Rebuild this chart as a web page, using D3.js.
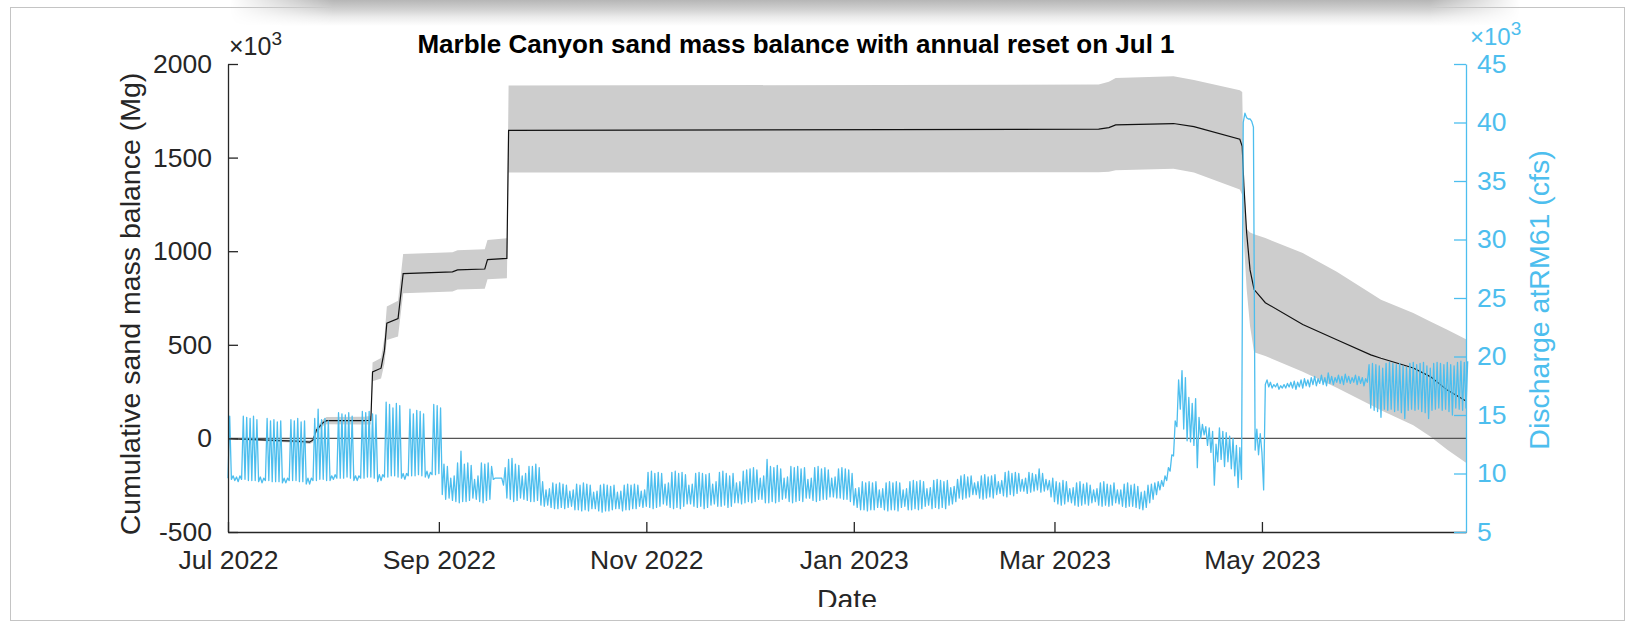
<!DOCTYPE html>
<html>
<head>
<meta charset="utf-8">
<script src="https://cdn.jsdelivr.net/npm/d3@7"></script>
<style>
  body { margin: 0; background: #fff; }
  svg { display: block; }
</style>
</head>
<body>
<script>
// sand mass balance, 10^3 Mg, at days counted from 1 Jul 2022
var massDay  = [0, 5, 10, 15, 20, 24, 25, 26, 28, 29, 40, 42, 42.5, 45, 46, 46.7, 50, 51.5, 66, 67.5, 75.5, 76.3, 82, 82.5,
                256, 259, 261, 278, 284, 297.5, 298.2, 298.7, 299.5, 300.5, 301.7, 305, 316, 326, 336, 339, 348.5, 353.5, 358.5, 364];
var massMean = [0, -5, -8, -12, -15, -20, -8, 45, 85, 95, 95, 97, 355, 375, 470, 615, 640, 880, 890, 900, 905, 955, 962, 1645,
                1652, 1660, 1675, 1682, 1665, 1598, 1560, 1350, 1100, 900, 795, 725, 608, 527, 446, 428, 376, 330, 258, 200];
var massLow  = [-2, -9, -14, -19, -23, -30, -20, 30, 68, 76, 74, 74, 305, 320, 400, 525, 545, 775, 785, 795, 800, 850, 855, 1420,
                1422, 1425, 1432, 1440, 1420, 1330, 1300, 1050, 800, 600, 460, 440, 356, 270, 178, 150, 70, 10, -60, -130];
var massHigh = [2, -1, -2, -5, -7, -10, 4, 60, 102, 114, 116, 120, 405, 430, 540, 705, 735, 985, 995, 1005, 1010, 1060, 1069, 1885,
                1890, 1905, 1925, 1935, 1915, 1860, 1850, 1360, 1120, 1100, 1090, 1070, 990, 890, 775, 740, 670, 625, 580, 530];

// discharge at RM61, 10^3 cfs: one reading at 00:00 and one at 12:00 of each day
var flowNight = [
  9.6,9.5,9.4,9.3,9.5,9.5,9.4,9.4,9.4,9.3,9.2,9.4,9.4,9.3,9.3,9.3,9.2,9.2,9.4,9.4,9.4,9.3,9.3,9.1,9.1,9.4,9.4,9.5,9.5,9.4,9.4,
  9.5,9.6,9.6,9.6,9.7,9.6,9.4,9.4,9.6,9.6,9.7,9.7,9.6,9.3,9.4,9.7,9.7,9.8,9.8,9.7,9.6,9.5,9.8,9.8,9.8,9.9,9.8,9.7,9.6,9.9,9.9,
  10.0,8.2,7.8,7.9,7.7,7.6,7.5,7.6,7.6,7.7,7.9,7.8,7.6,7.5,7.7,7.8,9.5,9.6,9.6,9.0,7.9,7.8,7.6,7.7,7.9,7.8,7.7,7.6,7.6,7.7,
  7.3,7.2,7.3,7.1,7.0,7.0,7.1,7.0,7.1,7.2,6.9,6.9,6.8,6.9,6.8,7.0,7.0,6.8,6.7,6.8,6.8,6.9,7.0,7.0,6.8,6.9,6.9,7.0,7.0,7.2,7.1,
  7.2,7.1,7.0,7.1,7.2,7.4,7.3,7.1,7.0,7.1,7.0,7.2,7.4,7.4,7.2,7.1,7.2,7.0,7.1,7.3,7.4,7.2,7.2,7.3,7.1,7.2,7.5,7.5,7.4,7.5,
  7.6,7.5,7.6,7.8,7.8,7.5,7.5,7.6,7.5,7.6,7.8,7.9,7.6,7.5,7.6,7.7,7.6,7.9,7.9,7.7,7.6,7.7,7.8,7.8,8.0,8.0,7.9,7.9,7.8,7.8,7.6,
  7.3,7.1,6.9,6.9,6.8,6.9,6.9,7.1,7.1,6.9,6.8,6.9,6.9,6.8,7.1,7.2,6.9,6.9,7.0,6.9,7.0,7.2,7.3,7.0,7.1,7.0,7.1,7.0,7.3,7.4,7.6,
  7.9,7.8,7.9,8.0,8.2,8.2,7.9,7.8,7.9,8.0,7.9,8.2,8.3,8.1,8.0,8.2,8.1,8.3,8.5,8.5,8.3,8.4,8.5,8.6,8.4,8.5,8.6,8.0,
  7.6,7.4,7.3,7.4,7.6,7.5,7.3,7.2,7.3,7.4,7.3,7.5,7.6,7.3,7.2,7.3,7.2,7.3,7.5,7.4,7.2,7.1,7.2,7.2,7.1,7.0,6.9,7.1,7.5,7.8,8.2,
  8.6,8.9,9.4,10.2,11.5,14.0,15.5,13.8,12.8,12.7,12.4,10.5,13.0,13.3,12.4,11.8,9.0,11.0,11.2,10.6,11.0,10.4,9.8,8.8,9.5,40.8,40.3,40.1,12.0,11.6,
  11.8,17.6,17.4,17.3,17.4,17.2,17.3,17.3,17.4,17.3,17.2,17.4,17.3,17.5,17.4,17.6,17.5,17.7,17.6,17.5,17.7,17.6,17.8,17.7,17.6,17.8,17.7,17.8,17.6,17.7,17.5,
  17.8,15.6,15.4,15.3,14.8,15.5,15.4,15.5,15.3,15.4,15.2,14.7,15.4,15.5,15.4,15.5,15.3,15.2,14.7,15.4,15.5,15.6,15.4,15.5,15.3,15.0,15.6,15.5,15.4,15.6
];
var flowNoon = [
  14.9,9.8,9.7,9.8,14.9,14.8,14.7,14.9,14.6,9.7,9.6,14.7,14.5,14.6,14.4,14.5,9.6,9.6,14.6,14.5,14.7,14.4,14.5,9.6,9.6,14.7,15.5,14.6,14.7,14.5,9.8,
  9.9,15.2,15.1,15.0,15.2,14.9,9.8,9.8,15.3,15.2,15.3,15.1,15.0,9.9,9.9,16.1,15.9,15.6,16.0,15.8,10.0,10.0,15.5,15.1,15.4,15.3,15.1,10.2,10.1,15.9,15.8,
  15.6,10.8,10.6,9.6,9.8,10.9,11.9,10.8,10.9,10.7,9.5,9.8,10.9,10.8,10.9,10.6,9.6,9.6,9.6,10.5,11.2,11.3,10.8,10.7,9.8,10.0,10.6,10.6,10.8,10.5,
  9.3,8.6,8.7,9.2,9.1,9.2,9.1,9.0,8.5,8.6,9.1,9.0,9.2,9.1,9.0,8.4,8.5,9.0,9.1,9.0,8.9,9.0,8.4,8.5,9.0,9.1,9.0,9.1,9.0,8.5,8.6,
  10.1,10.2,10.0,10.1,10.0,9.1,9.2,10.1,10.2,10.0,10.1,9.9,9.0,9.1,10.0,10.1,10.0,9.9,10.0,9.1,9.3,10.1,10.2,10.0,9.8,10.0,9.2,9.3,10.2,10.3,
  10.4,10.5,10.3,9.6,9.8,11.2,10.6,10.5,10.7,10.4,9.6,9.7,10.6,10.5,10.6,10.4,10.5,9.5,9.6,10.5,10.6,10.4,10.5,10.3,9.6,9.7,10.4,10.5,10.4,10.3,10.0,
  8.7,8.8,9.3,9.2,9.3,9.2,9.3,8.6,8.7,9.2,9.3,9.2,9.3,9.2,8.6,8.7,9.3,9.4,9.3,9.4,9.3,8.7,8.8,9.4,9.5,9.4,9.3,9.4,8.8,8.9,9.5,
  9.8,9.9,9.7,9.8,9.2,9.3,9.8,9.9,9.7,9.8,9.9,9.3,9.4,10.1,10.2,10.0,10.1,10.0,9.5,9.6,10.1,10.0,9.9,10.4,10.0,9.5,9.4,9.6,
  9.3,9.2,9.4,9.3,8.7,8.8,9.2,9.3,9.1,9.2,9.0,8.6,8.7,9.2,9.3,9.1,9.0,9.2,8.6,8.6,9.1,9.2,9.0,9.1,8.9,8.4,8.5,9.0,9.1,9.2,9.3,
  9.4,9.8,10.5,11.6,14.5,18.0,18.8,18.2,16.5,16.0,16.4,14.8,14.2,14.0,13.9,13.6,12.5,13.9,13.6,13.5,13.2,13.0,12.4,12.2,40.0,40.4,40.3,39.6,13.8,13.4,
  8.6,18.0,17.8,17.6,17.7,17.5,17.6,17.7,17.8,17.9,17.8,18.0,18.1,18.0,18.2,18.3,18.1,18.4,18.2,18.6,18.3,18.2,18.4,18.3,18.5,18.3,18.2,18.4,18.3,18.2,18.1,
  19.3,19.4,19.3,19.2,19.0,19.4,19.5,19.4,19.3,19.4,19.2,19.1,19.4,19.5,19.3,19.4,19.5,19.2,19.0,19.4,19.5,19.4,19.3,19.5,19.3,19.2,19.5,19.6,19.5,19.6
];

var xTicks = [[2022, 6], [2022, 8], [2022, 10], [2023, 0], [2023, 2], [2023, 4]];
var leftTicks = [-500, 0, 500, 1000, 1500, 2000];
var rightTicks = [5, 10, 15, 20, 25, 30, 35, 40, 45];

var w = 1628, h = 622;
var plotLeft = 228, plotRight = 1466, plotTop = 64, plotBottom = 532;
var dark = "#262626", blue = "#4dbeee";
var font = "'Liberation Sans', Arial, Helvetica, sans-serif";
var tickFont = 26.5;
var t0 = Date.UTC(2022, 6, 1);
var dayMs = 86400000;

var x = d3.scaleUtc()
  .domain([new Date(t0), new Date(Date.UTC(2023, 5, 30))])
  .range([plotLeft, plotRight]);
var yL = d3.scaleLinear().domain([-500, 2000]).range([plotBottom, plotTop]);
var yR = d3.scaleLinear().domain([5, 45]).range([plotBottom, plotTop]);

var svg = d3.select("body").append("svg")
  .attr("width", w)
  .attr("height", h)
  .attr("font-family", font);

var defs = svg.append("defs");
var g1 = defs.append("linearGradient").attr("id", "shadeV")
  .attr("x1", 0).attr("y1", 0).attr("x2", 0).attr("y2", 1);
g1.append("stop").attr("offset", "0").attr("stop-color", "#b6b6b6");
g1.append("stop").attr("offset", "0.35").attr("stop-color", "#d0d0d0");
g1.append("stop").attr("offset", "0.65").attr("stop-color", "#ebebeb");
g1.append("stop").attr("offset", "1").attr("stop-color", "#ffffff");
var g2 = defs.append("linearGradient").attr("id", "fadeH")
  .attr("x1", 0).attr("y1", 0).attr("x2", 1).attr("y2", 0);
g2.append("stop").attr("offset", "0").attr("stop-color", "#000");
g2.append("stop").attr("offset", "0.08").attr("stop-color", "#fff");
g2.append("stop").attr("offset", "0.93").attr("stop-color", "#fff");
g2.append("stop").attr("offset", "1").attr("stop-color", "#000");
defs.append("mask").attr("id", "fadeMask")
  .attr("maskUnits", "userSpaceOnUse")
  .append("rect").attr("x", 230).attr("y", 0).attr("width", 1290).attr("height", 26)
  .attr("fill", "url(#fadeH)");
defs.append("clipPath").attr("id", "figClip")
  .append("rect").attr("x", 11).attr("y", 8).attr("width", 1613).attr("height", 599);

// page frame and the shadow along its top
svg.append("rect")
  .attr("x", 10.5).attr("y", 7.5).attr("width", 1614).attr("height", 613)
  .attr("fill", "#fff").attr("stroke", "#c4c4c4");
svg.append("rect")
  .attr("x", 230).attr("y", 0).attr("width", 1290).attr("height", 26)
  .attr("fill", "url(#shadeV)").attr("mask", "url(#fadeMask)");

var fig = svg.append("g").attr("clip-path", "url(#figClip)");

var mass = massDay.map(function(d, i) {
  return { t: new Date(t0 + d * dayMs), m: massMean[i], lo: massLow[i], hi: massHigh[i] };
});
var flow = [];
flowNight.forEach(function(q, i) {
  flow.push({ t: new Date(t0 + i * dayMs), q: q });
  flow.push({ t: new Date(t0 + (i + 0.5) * dayMs), q: flowNoon[i] });
});

fig.append("path")
  .datum(mass)
  .attr("fill", "#cdcdcd")
  .attr("d", d3.area()
    .x(function(d) { return x(d.t); })
    .y0(function(d) { return yL(d.lo); })
    .y1(function(d) { return yL(d.hi); }));

fig.append("path")
  .datum(mass)
  .attr("fill", "none")
  .attr("stroke", "#111")
  .attr("stroke-width", 1.2)
  .attr("d", d3.line()
    .x(function(d) { return x(d.t); })
    .y(function(d) { return yL(d.m); }));

fig.append("line")
  .attr("x1", plotLeft).attr("x2", plotRight)
  .attr("y1", yL(0)).attr("y2", yL(0))
  .attr("stroke", "#555")
  .attr("stroke-width", 1.2);

fig.append("path")
  .datum(flow)
  .attr("fill", "none")
  .attr("stroke", blue)
  .attr("stroke-width", 1.3)
  .attr("stroke-linejoin", "round")
  .attr("d", d3.line()
    .x(function(d) { return x(d.t); })
    .y(function(d) { return yR(d.q); }));

// axes, ticks pointing inward
var xAxis = fig.append("g")
  .attr("transform", "translate(0," + plotBottom + ")")
  .attr("color", dark)
  .call(d3.axisBottom(x)
    .tickValues(xTicks.map(function(m) { return new Date(Date.UTC(m[0], m[1], 1)); }))
    .tickFormat(d3.utcFormat("%b %Y"))
    .tickSizeInner(-10).tickSizeOuter(0).tickPadding(18));

var yAxisL = fig.append("g")
  .attr("transform", "translate(" + plotLeft + ",0)")
  .attr("color", dark)
  .call(d3.axisLeft(yL).tickValues(leftTicks)
    .tickFormat(function(d) { return String(d); })
    .tickSizeInner(-10).tickSizeOuter(0).tickPadding(16));

var yAxisR = fig.append("g")
  .attr("transform", "translate(" + plotRight + ",0)")
  .attr("color", blue)
  .call(d3.axisRight(yR).tickValues(rightTicks)
    .tickFormat(function(d) { return String(d); })
    .tickSizeInner(-12).tickSizeOuter(0).tickPadding(11));

[xAxis, yAxisL, yAxisR].forEach(function(a) {
  a.selectAll("text").attr("font-size", tickFont).attr("font-family", font);
  a.selectAll("path, line").attr("stroke-width", 1.3);
});

// exponent markers
var expL = fig.append("text").attr("x", 229).attr("y", 55)
  .attr("fill", dark).attr("font-size", 25);
expL.append("tspan").text("\u00d710");
expL.append("tspan").attr("font-size", 19).attr("dy", -10).text("3");

var expR = fig.append("text").attr("x", 1470).attr("y", 45)
  .attr("fill", blue).attr("font-size", 24);
expR.append("tspan").text("\u00d710");
expR.append("tspan").attr("font-size", 19).attr("dy", -10).text("3");

fig.append("text")
  .attr("x", 796).attr("y", 53)
  .attr("text-anchor", "middle")
  .attr("font-size", 26)
  .attr("font-weight", "bold")
  .attr("fill", "#000")
  .text("Marble Canyon sand mass balance with annual reset on Jul 1");

fig.append("text")
  .attr("transform", "translate(140,304) rotate(-90)")
  .attr("text-anchor", "middle")
  .attr("font-size", 28.5)
  .attr("fill", dark)
  .text("Cumulative sand mass balance (Mg)");

fig.append("text")
  .attr("transform", "translate(1549,300) rotate(-90)")
  .attr("text-anchor", "middle")
  .attr("font-size", 28.5)
  .attr("fill", blue)
  .text("Discharge atRM61 (cfs)");

fig.append("text")
  .attr("x", (plotLeft + plotRight) / 2).attr("y", 609)
  .attr("text-anchor", "middle")
  .attr("font-size", 28.5)
  .attr("fill", dark)
  .text("Date");
</script>
</body>
</html>
